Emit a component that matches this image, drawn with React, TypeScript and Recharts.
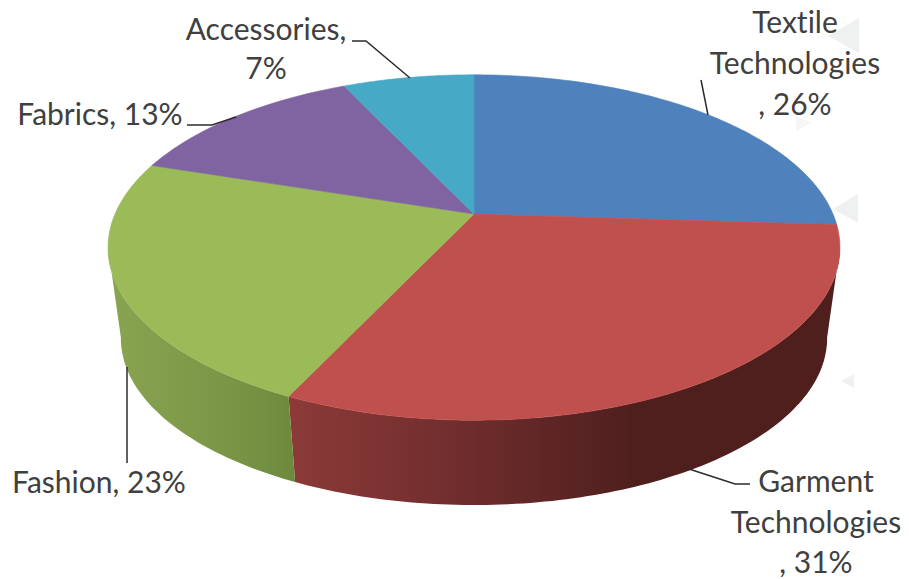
import { PieChart, Pie } from 'recharts';

const categories = ['Textile Technologies', 'Garment Technologies', 'Fashion', 'Fabrics', 'Accessories'];
const shares = [26, 31, 23, 13, 7];
const topColors = ['#4f81bd', '#c0504d', '#9bbb59', '#8064a2', '#46a9c5'];
const wallFills = ['none', 'url(#wallRed)', 'url(#wallGreen)', 'none', 'none'];

const pieData = categories.map((name, i) => ({ name, value: shares[i] }));

const TILT = 0.194;
const FLATTEN = 0.463;
const WALL_DROP = 92;
const WALL_SCALE = 0.965;
// Only this part of the rim faces the viewer (clockwise degrees from 12 o'clock)
const RIM_FROM = 101;
const RIM_TO = 259;

const FONT = 'Lato, "Open Sans", sans-serif';

const labelLines = [
  ['Textile', 'Technologies', ', 26%'],
  ['Garment', 'Technologies', ', 31%'],
  ['Fashion, 23%'],
  ['Fabrics, 13%'],
  ['Accessories,', '7%'],
];
const labelSpots = [
  { x: 795, y: 33, gap: 41 },
  { x: 816, y: 492, gap: 40.5 },
  { x: 99, y: 493, gap: 0 },
  { x: 100, y: 125, gap: 0 },
  { x: 266, y: 40, gap: 39 },
];
const leaders = [
  'M701 80 L708 115',
  'M686 468 L735 484 L750 484',
  'M127 367 L127 463',
  'M187 125 L212 125 L236 117',
  'M352 41 L366 41 L410 78',
];
const ghostMarks = [
  { points: '859,18 859,53 828,36', fill: '#eff1f0' },
  { points: '796,115 796,131 811,123', fill: '#f5f6f5' },
  { points: '858,194 858,223 833,209', fill: '#eff1f0' },
  { points: '798,290 798,299 805,295', fill: '#b44a48' },
  { points: '854,374 854,388 841,381', fill: '#eff1f0' },
];

function project(deg: number, cx: number, cy: number, r: number, lower: boolean) {
  const t = (deg * Math.PI) / 180;
  const X = Math.sin(t);
  const Y = -Math.cos(t);
  const d = 1 - TILT * Y;
  const s = lower ? WALL_SCALE : 1;
  return {
    x: cx + (s * r * X) / d,
    y: cy + (lower ? WALL_DROP : 0) + (s * r * FLATTEN * Y) / d,
  };
}

function arcPoints(from: number, to: number, cx: number, cy: number, r: number, lower: boolean) {
  const n = Math.max(2, Math.ceil(Math.abs(to - from)));
  const pts = [];
  for (let i = 0; i <= n; i++) {
    const p = project(from + ((to - from) * i) / n, cx, cy, r, lower);
    pts.push(`${p.x.toFixed(1)} ${p.y.toFixed(1)}`);
  }
  return pts;
}

function TopSlice(props: any, index: number) {
  const { cx, cy, outerRadius, startAngle, endAngle } = props;
  const pts = arcPoints(90 - startAngle, 90 - endAngle, cx, cy, outerRadius, false);
  const color = topColors[index];
  return <path d={`M${cx} ${cy} L${pts.join(' L')} Z`} fill={color} stroke={color} strokeWidth={0.6} />;
}

function WallSlice(props: any, index: number) {
  const { cx, cy, outerRadius, startAngle, endAngle } = props;
  const from = Math.max(90 - startAngle, RIM_FROM);
  const to = Math.min(90 - endAngle, RIM_TO);
  if (from >= to || wallFills[index] === 'none') return <g />;
  const upper = arcPoints(from, to, cx, cy, outerRadius, false);
  const lower = arcPoints(to, from, cx, cy, outerRadius, true);
  return <path d={`M${upper.join(' L')} L${lower.join(' L')} Z`} fill={wallFills[index]} />;
}

function SliceLabel(props: any) {
  const i = props.index;
  const spot = labelSpots[i];
  return (
    <g>
      <path d={leaders[i]} fill="none" stroke="#2b2b2b" strokeWidth={1.5} />
      {labelLines[i].map((line, k) => (
        <text
          key={k}
          x={spot.x}
          y={spot.y + k * spot.gap}
          textAnchor="middle"
          fontFamily={FONT}
          fontSize={30}
          fill="#404040"
          style={{ fontVariantLigatures: 'none' }}
        >
          {line}
        </text>
      ))}
    </g>
  );
}

export default function App() {
  return (
    <div style={{ position: 'absolute', left: 0, top: 0, width: 909, height: 579, background: '#fff' }}>
      <PieChart width={909} height={579} margin={{ top: 0, right: 0, bottom: 0, left: 0 }}>
        <defs>
          <linearGradient id="wallRed" gradientUnits="userSpaceOnUse" x1={291} y1={0} x2={840} y2={0}>
            <stop offset="0" stopColor="#8b3a38" />
            <stop offset="0.33" stopColor="#6e2c2c" />
            <stop offset="0.62" stopColor="#4f1f1e" />
            <stop offset="1" stopColor="#4f1f1e" />
          </linearGradient>
          <linearGradient id="wallGreen" gradientUnits="userSpaceOnUse" x1={115} y1={0} x2={297} y2={0}>
            <stop offset="0" stopColor="#88a450" />
            <stop offset="0.6" stopColor="#7b9647" />
            <stop offset="1" stopColor="#6d893c" />
          </linearGradient>
        </defs>
        <Pie
          data={pieData}
          dataKey="value"
          cx={474}
          cy={214}
          outerRadius={359}
          startAngle={90}
          endAngle={-270}
          stroke="none"
          shape={WallSlice}
          isAnimationActive={false}
        />
        <Pie
          data={pieData}
          dataKey="value"
          cx={474}
          cy={214}
          outerRadius={359}
          startAngle={90}
          endAngle={-270}
          stroke="none"
          shape={TopSlice}
          label={SliceLabel}
          labelLine={false}
          isAnimationActive={false}
        />
        {ghostMarks.map((m, i) => (
          <polygon key={i} points={m.points} fill={m.fill} />
        ))}
      </PieChart>
    </div>
  );
}
